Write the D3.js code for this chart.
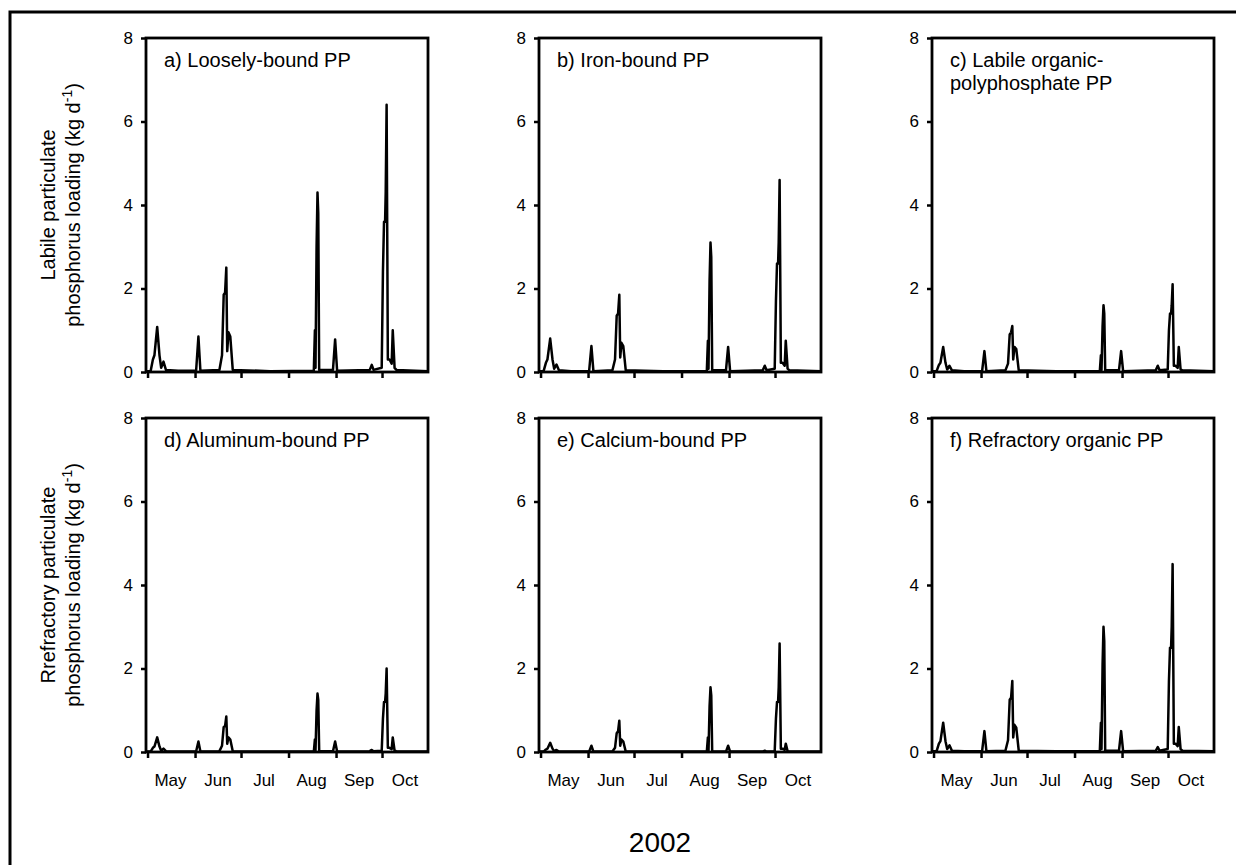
<!DOCTYPE html>
<html>
<head>
<meta charset="utf-8">
<script src="https://cdn.jsdelivr.net/npm/d3@7"></script>
<style>
html,body{margin:0;padding:0;background:#fff;overflow:hidden;}
svg{display:block;font-family:"Liberation Sans",Arial,sans-serif;}
</style>
</head>
<body>
<svg id="chart" width="1236" height="865"></svg>
<script>
// ---- data ----
// sample times, in days since 2002-05-01
const dayOffsets = [-1,2,3.5,4.5,6.3,7.8,8.9,10.4,12,20, 31.7,33.2,34.5, 46.9,48.6,49.7,50.6,51.4,52,52.8,54,55.6, 80, 108.5,109.2,109.6,110.3,110.9,111.4,112, 121,122.4,123.7, 145,146.3,147.5, 152.8,153.6,154.3,155,155.4,156,156.8,157.9,159.3,160,161.2,162.4, 183];

const loosely = [0.02,0.02,0.3,0.4,1.08,0.4,0.1,0.25,0.05,0.03, 0.03,0.85,0.03, 0.05,0.4,1.85,1.9,2.5,0.5,0.95,0.85,0.05, 0.02, 0.03,1.0,0.1,3.0,4.3,3.8,0.05, 0.05,0.78,0.03, 0.05,0.17,0.05, 0.1,2.4,3.6,3.6,4.3,6.4,0.3,0.3,0.2,1.0,0.1,0.05,0.02];
const ironBound = [0.02,0.02,0.22,0.3,0.8,0.3,0.08,0.18,0.04,0.02, 0.02,0.62,0.02, 0.04,0.3,1.35,1.4,1.85,0.35,0.7,0.62,0.04, 0.02, 0.02,0.75,0.08,2.2,3.1,2.75,0.04, 0.04,0.6,0.02, 0.04,0.15,0.04, 0.08,1.7,2.6,2.6,3.1,4.6,0.22,0.22,0.15,0.75,0.08,0.04,0.02];
const labileOrganic = [0.02,0.02,0.17,0.22,0.6,0.22,0.06,0.15,0.04,0.02, 0.02,0.5,0.02, 0.04,0.2,0.9,0.95,1.1,0.3,0.6,0.55,0.04, 0.02, 0.02,0.4,0.05,1.1,1.6,1.4,0.04, 0.04,0.5,0.02, 0.04,0.15,0.04, 0.06,1.0,1.4,1.4,1.6,2.1,0.15,0.15,0.1,0.6,0.06,0.04,0.02];
const aluminum = [0.01,0.01,0.1,0.13,0.35,0.13,0.03,0.08,0.02,0.01, 0.01,0.25,0.01, 0.02,0.15,0.6,0.62,0.85,0.2,0.35,0.3,0.02, 0.01, 0.01,0.3,0.03,1.0,1.4,1.25,0.02, 0.02,0.25,0.01, 0.02,0.05,0.02, 0.03,0.8,1.2,1.2,1.4,2.0,0.1,0.1,0.07,0.35,0.03,0.02,0.01];
const calcium = [0.01,0.01,0.06,0.08,0.22,0.08,0.02,0.05,0.01,0.01, 0.01,0.15,0.01, 0.01,0.1,0.45,0.5,0.75,0.15,0.3,0.25,0.01, 0.01, 0.01,0.35,0.02,1.1,1.55,1.35,0.01, 0.01,0.15,0.01, 0.01,0.03,0.01, 0.02,0.8,1.2,1.2,1.55,2.6,0.08,0.08,0.05,0.2,0.02,0.01,0.01];
const refractoryOrganic = [0.02,0.02,0.2,0.26,0.7,0.26,0.07,0.16,0.03,0.02, 0.02,0.5,0.02, 0.03,0.28,1.25,1.3,1.7,0.35,0.65,0.58,0.03, 0.02, 0.02,0.7,0.07,2.1,3.0,2.65,0.03, 0.03,0.5,0.02, 0.03,0.12,0.03, 0.07,1.7,2.5,2.5,3.0,4.5,0.2,0.2,0.14,0.6,0.07,0.03,0.02];

const panelTitles = [["a) Loosely-bound PP"],["b) Iron-bound PP"],["c) Labile organic-","polyphosphate PP"],["d) Aluminum-bound PP"],["e) Calcium-bound PP"],["f) Refractory organic PP"]];
const seriesList = [loosely, ironBound, labileOrganic, aluminum, calcium, refractoryOrganic];
const yTicks = [0,2,4,6,8];
const monthTicks = ["2002-05-01","2002-06-01","2002-07-01","2002-08-01","2002-09-01","2002-10-01"];
const monthLabels = ["May","Jun","Jul","Aug","Sep","Oct"];
const rowLabels = [["Labile particulate","phosphorus loading (kg d","-1",")"],["Rrefractory particulate","phosphorus loading (kg d","-1",")"]];
const yearLabel = "2002";

// ---- layout ----
const svg = d3.select("#chart");
const colX = [146, 539, 932];
const rowY = [38, 418];
const pw = 282, ph = 334;
const base = new Date(2002,4,1);
const toDate = d => new Date(base.getTime() + d*864e5);

// outer frame (left + top)
svg.append("path").attr("d","M10,870 L10,12 L1240,12").attr("fill","none").attr("stroke","#000").attr("stroke-width",3);

const x = d3.scaleTime().domain([new Date(2002,3,30), new Date(2002,9,31)]).range([0,pw]);
const y = d3.scaleLinear().domain([0,8]).range([ph,0]);
const line = d3.line().x((d,i)=>x(toDate(dayOffsets[i]))).y(d=>y(d));
const parse = d3.timeParse("%Y-%m-%d");

seriesList.forEach((vals,k)=>{
  const r = Math.floor(k/3), c = k%3;
  const g = svg.append("g").attr("transform",`translate(${colX[c]},${rowY[r]})`);
  // y axis ticks
  const ya = d3.axisLeft(y).tickValues(yTicks).tickSize(5).tickPadding(8).tickFormat(d3.format("d"));
  const yg = g.append("g").call(ya);
  yg.select(".domain").remove();
  yg.selectAll("line").attr("stroke","#000").attr("stroke-width",2.5);
  yg.selectAll("text").attr("font-size",17).attr("fill","#000").attr("font-family","Liberation Sans, Arial, sans-serif");
  // x axis ticks
  const xa = d3.axisBottom(x).tickValues(monthTicks.map(parse)).tickSize(6).tickFormat("");
  const xg = g.append("g").attr("transform",`translate(0,${ph})`).call(xa);
  xg.select(".domain").remove();
  xg.selectAll("line").attr("stroke","#000").attr("stroke-width",2.5);
  if(r===1){
    monthLabels.forEach((m,i)=>{
      const d0 = parse(monthTicks[i]);
      const mid = new Date(d0.getFullYear(), d0.getMonth(), 16);
      g.append("text").attr("x",x(mid)).attr("y",ph+34).attr("text-anchor","middle")
        .attr("font-size",17).text(m);
    });
  }
  // data line
  g.append("path").datum(vals).attr("d",line).attr("fill","none").attr("stroke","#000").attr("stroke-width",2.5).attr("stroke-linejoin","round");
  // frame
  g.append("rect").attr("x",0).attr("y",0).attr("width",pw).attr("height",ph).attr("fill","none").attr("stroke","#000").attr("stroke-width",2.8);
  // title
  panelTitles[k].forEach((t,j)=>{
    g.append("text").attr("x",18).attr("y",29+j*23).attr("font-size",20).text(t);
  });
});

// row labels
rowLabels.forEach((lab,r)=>{
  const cy = rowY[r]+ph/2;
  const t1 = svg.append("text").attr("transform",`translate(55,${cy}) rotate(-90)`).attr("text-anchor","middle").attr("font-size",20).text(lab[0]);
  const t2 = svg.append("text").attr("transform",`translate(80,${cy}) rotate(-90)`).attr("text-anchor","middle").attr("font-size",20);
  t2.append("tspan").text(lab[1]);
  t2.append("tspan").attr("dy",-8).attr("font-size",14).text(lab[2]);
  t2.append("tspan").attr("dy",8).text(lab[3]);
});

svg.append("text").attr("x",660).attr("y",852).attr("text-anchor","middle").attr("font-size",28).text(yearLabel);
</script>
</body>
</html>
